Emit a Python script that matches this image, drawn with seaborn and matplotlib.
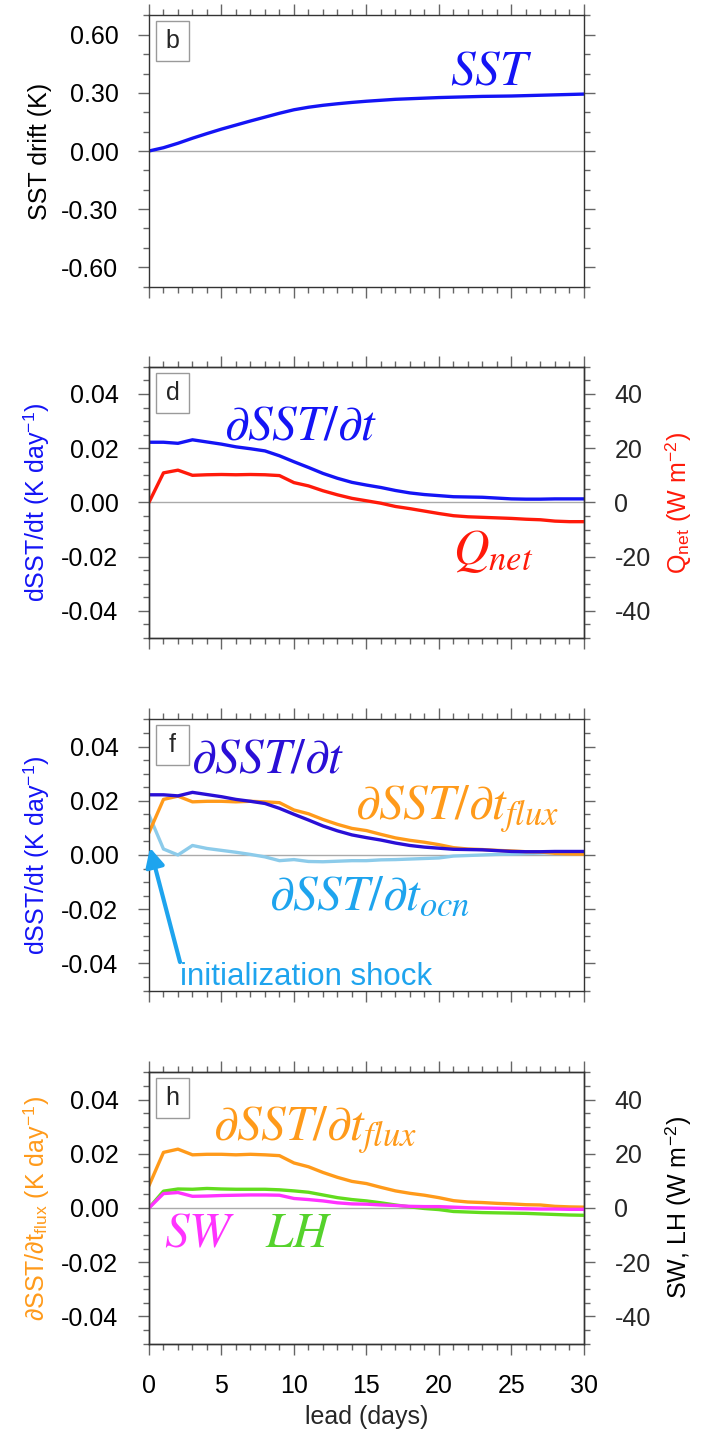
import matplotlib
matplotlib.use("Agg")
import matplotlib.pyplot as plt
from matplotlib.patches import Rectangle
from matplotlib.ticker import MultipleLocator, FormatStrFormatter
import pandas as pd
import seaborn as sns

# ---- data -----------------------------------------------------------------
lead_days = list(range(31))

# SST drift (K)
sst_drift = [0.000, 0.017, 0.040, 0.066, 0.090, 0.113, 0.134, 0.155, 0.175, 0.195,
             0.213, 0.226, 0.236, 0.244, 0.251, 0.257, 0.262, 0.267, 0.270, 0.273,
             0.276, 0.278, 0.280, 0.282, 0.283, 0.284, 0.286, 0.288, 0.290, 0.292, 0.294]

# dSST/dt total tendency (K/day)
dsst_dt = [0.0222, 0.0222, 0.0218, 0.0231, 0.0223, 0.0215, 0.0205, 0.0198, 0.0190, 0.0172,
           0.0150, 0.0129, 0.0107, 0.0089, 0.0074, 0.0064, 0.0055, 0.0044, 0.0035, 0.0029,
           0.0025, 0.0021, 0.0020, 0.0019, 0.0016, 0.0013, 0.0012, 0.0012, 0.0013, 0.0013, 0.0013]

# net surface heat flux (W m-2)
q_net = [0.0, 10.9, 11.9, 10.0, 10.2, 10.3, 10.2, 10.3, 10.2, 9.9,
         7.3, 6.1, 4.3, 2.8, 1.5, 0.6, -0.3, -1.5, -2.3, -3.2,
         -4.1, -4.9, -5.3, -5.5, -5.7, -5.9, -6.2, -6.4, -6.9, -7.1, -7.1]

# flux-driven tendency (K/day)
dsst_flux = [0.0082, 0.0205, 0.0217, 0.0196, 0.0198, 0.0198, 0.0196, 0.0198, 0.0196, 0.0193,
             0.0166, 0.0152, 0.0131, 0.0113, 0.0098, 0.0090, 0.0076, 0.0063, 0.0054, 0.0047,
             0.0038, 0.0027, 0.0022, 0.0020, 0.0017, 0.0015, 0.0012, 0.0011, 0.0006, 0.0004, 0.0003]

# ocean-driven tendency (K/day)
dsst_ocn = [0.0148, 0.0022, 0.0000, 0.0035, 0.0024, 0.0017, 0.0010, 0.0002, -0.0007, -0.0021,
            -0.0017, -0.0024, -0.0025, -0.0023, -0.0021, -0.0021, -0.0018, -0.0017, -0.0015, -0.0013,
            -0.0011, -0.0004, -0.0002, 0.0000, 0.0002, 0.0003, 0.0005, 0.0007, 0.0009, 0.0011, 0.0012]

# shortwave and latent heat flux (W m-2)
sw_flux = [0.0, 5.3, 5.7, 4.3, 4.4, 4.6, 4.7, 4.8, 4.8, 4.7,
           3.5, 3.1, 2.6, 1.9, 1.5, 1.4, 1.1, 0.9, 0.6, 0.5,
           0.5, 0.3, 0.1, 0.0, -0.1, -0.2, -0.3, -0.4, -0.4, -0.5, -0.5]
lh_flux = [0.0, 6.2, 7.0, 6.9, 7.2, 7.0, 6.9, 6.9, 6.9, 6.7,
           6.3, 5.8, 4.8, 3.8, 3.1, 2.6, 1.9, 1.1, 0.4, -0.2,
           -0.6, -1.3, -1.5, -1.7, -1.8, -1.9, -2.0, -2.2, -2.4, -2.6, -2.7]

df = pd.DataFrame({"lead": lead_days, "sst": sst_drift, "dsst": dsst_dt, "qnet": q_net,
                   "flux": dsst_flux, "ocn": dsst_ocn, "sw": sw_flux, "lh": lh_flux})

# ---- style ----------------------------------------------------------------
sns.set_theme(style="ticks")
plt.rcParams["font.family"] = ["Liberation Sans", "DejaVu Sans"]
plt.rcParams["mathtext.fontset"] = "stix"

BLUE = "#1414f5"
DKBLUE = "#2a0fd6"
RED = "#ff1a0a"
ORANGE = "#ff9a1a"
SKY_LINE = "#8ccbea"
SKY_TEXT = "#1ea4ee"
GREEN = "#62dc1e"
MAGENTA = "#ff33ff"
SPINE = "#333333"
TICKC = "#666666"
FS = 18
BIG = 35.5
LW = 2.4

fig = plt.figure(figsize=(7.06, 14.32), dpi=100)
L, W, H = 0.2110, 0.6161, 0.1893
bottoms = [0.7999, 0.5545, 0.3083, 0.0618]
axes = [fig.add_axes([L, b, W, H]) for b in bottoms]


def style_axes(ax, ylim, major, minor, fmt, right_ticks=True):
    ax.set_xlim(0, 30)
    ax.set_ylim(*ylim)
    ax.xaxis.set_major_locator(MultipleLocator(5))
    ax.xaxis.set_minor_locator(MultipleLocator(1))
    ax.yaxis.set_major_locator(MultipleLocator(major))
    ax.yaxis.set_minor_locator(MultipleLocator(minor))
    ax.yaxis.set_major_formatter(FormatStrFormatter(fmt))
    ax.tick_params(which="both", direction="out", top=True, right=right_ticks,
                   color=TICKC, width=1)
    ax.tick_params(which="major", length=8, labelsize=FS, pad=14, labelcolor="black")
    ax.tick_params(which="minor", length=4)
    for s in ax.spines.values():
        s.set_color(SPINE)
        s.set_linewidth(1)
    ax.axhline(0, color="#aaaaaa", lw=1, zorder=0)
    ax.set_xlabel("")
    ax.set_ylabel("")


def style_twin(ax2):
    ax2.set_ylim(-50, 50)
    ax2.yaxis.set_major_locator(MultipleLocator(20))
    ax2.yaxis.set_minor_locator(MultipleLocator(5))
    ax2.yaxis.set_major_formatter(FormatStrFormatter("%d"))
    ax2.tick_params(which="both", direction="out", color=TICKC, width=1)
    ax2.tick_params(which="major", length=8, labelsize=FS, pad=14)
    ax2.tick_params(which="minor", length=4)
    for s in ax2.spines.values():
        s.set_color(SPINE)
        s.set_linewidth(1)
    ax2.set_ylabel("")


def panel_tag(ax, s):
    ax.add_patch(Rectangle((7 / 435, 1 - 46 / 271), 33 / 435, 40 / 271,
                           transform=ax.transAxes, fc="white", ec="#9a9a9a",
                           lw=1, zorder=5))
    ax.text((7 + 16.5) / 435, 1 - 26 / 271, s, transform=ax.transAxes,
            ha="center", va="center", fontsize=FS, zorder=6)


def left_label(ax, text, color):
    ax.set_ylabel(text, fontsize=FS, color=color)
    ax.yaxis.set_label_coords(-0.223, 0.5)


def right_label(ax2, text, color):
    ax2.set_ylabel(text, fontsize=FS, color=color)
    ax2.yaxis.set_label_coords(1.184, 0.5)


# ---- (b) SST drift --------------------------------------------------------
ax = axes[0]
sns.lineplot(data=df, x="lead", y="sst", ax=ax, color=BLUE, lw=LW)
style_axes(ax, (-0.7, 0.7), 0.3, 0.1, "%.2f")
ax.tick_params(labelbottom=False)
panel_tag(ax, "b")
left_label(ax, "SST drift (K)", "black")
ax.text(23.6, 0.345, r"$SST$", color=BLUE, fontsize=BIG, ha="center", va="baseline")

# ---- (d) dSST/dt and Qnet -------------------------------------------------
ax = axes[1]
sns.lineplot(data=df, x="lead", y="dsst", ax=ax, color=BLUE, lw=LW)
style_axes(ax, (-0.05, 0.05), 0.02, 0.005, "%.2f", right_ticks=False)
ax.tick_params(labelbottom=False)
ax2 = ax.twinx()
sns.lineplot(data=df, x="lead", y="qnet", ax=ax2, color=RED, lw=LW)
style_twin(ax2)
panel_tag(ax, "d")
left_label(ax, r"dSST/dt (K day$^{\mathregular{-1}}$)", BLUE)
right_label(ax2, r"Q$_{\mathregular{net}}$ (W m$^{\mathregular{-2}}$)", RED)
ax.text(5.2, 0.0231, r"$\partial SST/\partial t$", color=BLUE, fontsize=BIG,
        ha="left", va="baseline")
ax.text(21.0, -0.0227, r"$Q_{net}$", color=RED, fontsize=BIG, ha="left", va="baseline")

# ---- (f) tendency budget --------------------------------------------------
ax = axes[2]
sns.lineplot(data=df, x="lead", y="ocn", ax=ax, color=SKY_LINE, lw=LW)
sns.lineplot(data=df, x="lead", y="flux", ax=ax, color=ORANGE, lw=LW)
sns.lineplot(data=df, x="lead", y="dsst", ax=ax, color=DKBLUE, lw=LW)
style_axes(ax, (-0.05, 0.05), 0.02, 0.005, "%.2f")
ax.tick_params(labelbottom=False)
panel_tag(ax, "f")
left_label(ax, r"dSST/dt (K day$^{\mathregular{-1}}$)", BLUE)
ax.text(2.9, 0.0304, r"$\partial SST/\partial t$", color=DKBLUE, fontsize=BIG,
        ha="left", va="baseline")
ax.text(14.2, 0.0130, r"$\partial SST/\partial t_{flux}$", color=ORANGE, fontsize=BIG,
        ha="left", va="baseline")
ax.text(8.3, -0.0202, r"$\partial SST/\partial t_{ocn}$", color=SKY_TEXT, fontsize=BIG,
        ha="left", va="baseline")
ax.annotate("", xy=(0.07, 0.0027), xytext=(2.14, -0.0395),
            arrowprops=dict(arrowstyle="-|>", color=SKY_TEXT, lw=3,
                            mutation_scale=28, shrinkA=0, shrinkB=0))
ax.text(2.14, -0.0480, "initialization shock", color=SKY_TEXT, fontsize=22.5,
        ha="left", va="baseline")

# ---- (h) flux components --------------------------------------------------
ax = axes[3]
sns.lineplot(data=df, x="lead", y="flux", ax=ax, color=ORANGE, lw=LW)
style_axes(ax, (-0.05, 0.05), 0.02, 0.005, "%.2f", right_ticks=False)
ax.set_xticks([0, 5, 10, 15, 20, 25, 30])
ax.xaxis.set_major_formatter(FormatStrFormatter("%d"))
ax2 = ax.twinx()
sns.lineplot(data=df, x="lead", y="lh", ax=ax2, color=GREEN, lw=LW)
sns.lineplot(data=df, x="lead", y="sw", ax=ax2, color=MAGENTA, lw=LW)
style_twin(ax2)
panel_tag(ax, "h")
left_label(ax, r"∂SST/∂t$_{\mathregular{flux}}$ (K day$^{\mathregular{-1}}$)", ORANGE)
right_label(ax2, r"SW, LH (W m$^{\mathregular{-2}}$)", "black")
ax.set_xlabel("lead (days)", fontsize=FS)
ax.xaxis.set_label_coords(0.5, -0.2265)
ax.text(4.4, 0.0250, r"$\partial SST/\partial t_{flux}$", color=ORANGE, fontsize=BIG,
        ha="left", va="baseline")
ax.text(1.03, -0.0145, r"$SW$", color=MAGENTA, fontsize=BIG, ha="left", va="baseline")
ax.text(8.0, -0.0145, r"$LH$", color="#55d22c", fontsize=BIG, ha="left", va="baseline")

fig.savefig("out.png", dpi=100)
